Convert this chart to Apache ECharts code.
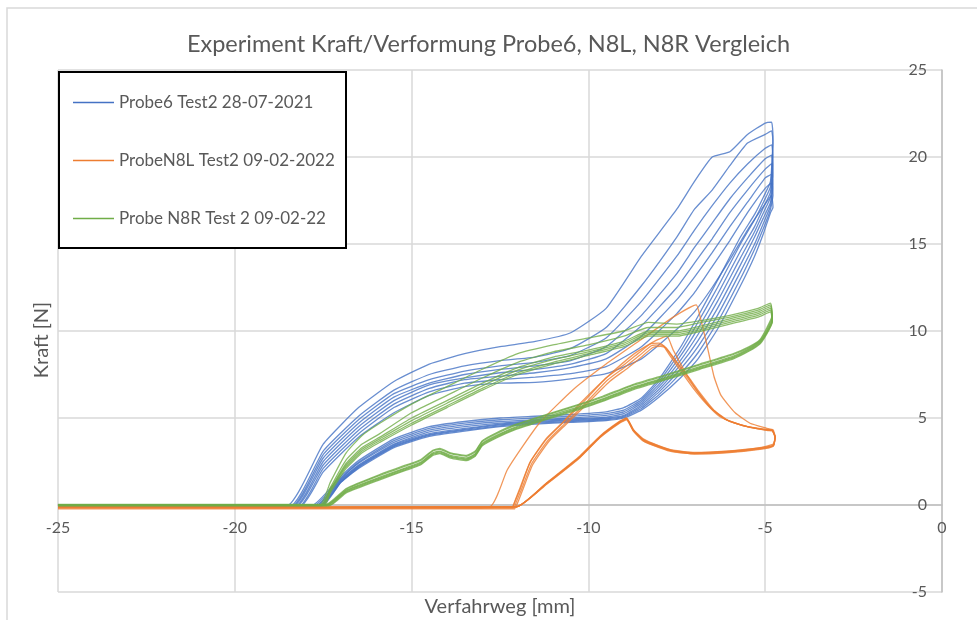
<!DOCTYPE html>
<html>

<head>
    <meta charset="UTF-8">
    <title>Experiment Kraft/Verformung</title>
    <script src="https://cdn.jsdelivr.net/npm/echarts@6.0.0/dist/echarts.min.js"></script>
</head>

<body style="margin:0;background:#fff;">
    <div id="kraftBox" style="width:977px;height:620px;"></div>

    <script>
        // Achsen
        var xMin = -25, xMax = 0, xStep = 5;
        var yMin = -5, yMax = 25, yStep = 5;

        var seriesNames = ['Probe6 Test2 28-07-2021', 'ProbeN8L Test2 09-02-2022', 'Probe N8R Test 2 09-02-22'];
        var seriesColors = ['#4472c4', '#ed7d31', '#70ad47'];

        // ---- Probe6 (blau): Belastungsast, Spitze, Entlastungsast ----
        var blueBase = [-0.06, -0.08, -0.1, -0.07, -0.09, -0.05, -0.1, -0.08];
        var blueStartX = [-18.55, -18.45, -18.4, -18.35, -18.3, -18.25, -18.2, -18.15];
        var blueUpX = [-17.5, -16.5, -15.5, -14.5, -13.5, -12.5, -11.5, -10.5, -9.5, -8.5, -7.5, -7.0, -6.5, -6.0, -5.5, -5.0];
        var blueUpY = [
            [3.5, 5.6, 7.1, 8.1, 8.7, 9.1, 9.4, 9.9, 11.3, 14.3, 17.0, 18.6, 20.0, 20.3, 21.3, 21.95],
            [3.1, 5.1, 6.6, 7.5, 8.0, 8.3, 8.5, 9.0, 10.2, 12.6, 15.4, 17.0, 18.1, 19.5, 20.8, 21.3],
            [2.9, 4.9, 6.4, 7.2, 7.7, 8.0, 8.2, 8.6, 9.6, 11.7, 14.3, 15.8, 17.2, 18.5, 19.6, 20.5],
            [2.7, 4.7, 6.2, 7.0, 7.5, 7.8, 8.0, 8.3, 9.1, 10.9, 13.3, 14.8, 16.2, 17.6, 18.8, 19.9],
            [2.5, 4.5, 6.0, 6.9, 7.3, 7.6, 7.8, 8.1, 8.7, 10.3, 12.5, 13.9, 15.3, 16.8, 18.1, 19.3],
            [2.3, 4.3, 5.8, 6.7, 7.2, 7.4, 7.6, 7.9, 8.4, 9.7, 11.8, 13.1, 14.5, 16.0, 17.4, 18.8],
            [2.1, 4.1, 5.6, 6.5, 7.0, 7.2, 7.35, 7.55, 7.95, 9.1, 11.0, 12.2, 13.7, 15.2, 16.8, 18.2],
            [1.9, 3.9, 5.3, 6.3, 6.8, 7.0, 7.05, 7.25, 7.55, 8.4, 10.1, 11.1, 12.5, 14.1, 15.8, 17.3]
        ];
        var blueTipX = -4.82;
        var blueTipY = [22.0, 21.5, 20.7, 20.1, 19.6, 19.0, 18.5, 17.8];
        var blueLowX = [-4.78, -4.85, -5.05, -5.3, -5.7, -6.35, -6.9, -7.4, -8.0, -8.5, -9.0, -9.5, -10.5, -11.5, -12.5, -13.5, -14.5, -15.5, -16.5, -17.0];
        var blueLowY = [
            [21.2, 18.6, 17.7, 16.7, 15.4, 12.9, 10.85, 9.05, 7.25, 6.15, 5.6, 5.35, 5.2, 5.1, 5.0, 4.8, 4.5, 3.8, 2.55, 1.65],
            [20.8, 18.3, 17.4, 16.4, 15.0, 12.5, 10.5, 8.8, 7.1, 6.05, 5.45, 5.25, 5.1, 5.0, 4.9, 4.7, 4.4, 3.7, 2.45, 1.55],
            [20.0, 18.0, 17.1, 16.0, 14.6, 12.1, 10.15, 8.55, 6.95, 5.95, 5.35, 5.15, 5.0, 4.9, 4.8, 4.6, 4.3, 3.6, 2.4, 1.5],
            [19.4, 17.7, 16.8, 15.7, 14.2, 11.7, 9.8, 8.3, 6.8, 5.85, 5.25, 5.05, 4.95, 4.85, 4.7, 4.5, 4.2, 3.5, 2.3, 1.45],
            [18.9, 17.4, 16.5, 15.4, 13.8, 11.3, 9.45, 8.05, 6.65, 5.75, 5.15, 5.0, 4.9, 4.8, 4.65, 4.4, 4.1, 3.45, 2.25, 1.4],
            [18.3, 17.2, 16.2, 15.0, 13.4, 10.9, 9.1, 7.8, 6.5, 5.65, 5.1, 4.95, 4.85, 4.75, 4.6, 4.35, 4.05, 3.4, 2.2, 1.35],
            [17.8, 17.0, 15.9, 14.7, 13.0, 10.5, 8.75, 7.55, 6.35, 5.55, 5.05, 4.9, 4.8, 4.7, 4.55, 4.3, 4.0, 3.35, 2.15, 1.3],
            [17.1, 16.8, 15.6, 14.3, 12.6, 10.1, 8.4, 7.3, 6.2, 5.45, 5.0, 4.85, 4.75, 4.65, 4.5, 4.25, 3.95, 3.3, 2.1, 1.3]
        ];
        var blueEndX = [-17.85, -17.8, -17.75, -17.7, -17.65, -17.6, -17.6, -17.55];

        // ---- ProbeN8L (orange) ----
        var orangeBase = [-0.1, -0.14, -0.18, -0.22, -0.12];
        var orangeUp = [
            [[-12.8, -0.1], [-12.3, 2.0], [-11.85, 3.4], [-11.35, 4.8], [-10.45, 6.6], [-9.5, 8.1], [-8.55, 9.45], [-7.6, 10.8], [-6.95, 11.5],
             [-6.85, 10.9], [-6.66, 9.3], [-6.45, 7.4], [-6.25, 6.3], [-5.85, 5.3], [-5.43, 4.7], [-4.96, 4.41], [-4.78, 4.32]],
            [[-12.15, -0.1], [-11.95, 0.9], [-11.65, 2.45], [-11.2, 3.8], [-10.7, 4.8], [-10.3, 5.7], [-9.5, 7.3], [-8.7, 8.7], [-8.1, 9.45], [-7.78, 9.7],
             [-7.6, 8.9], [-7.25, 7.6], [-6.9, 6.5], [-6.5, 5.5], [-6.1, 4.9], [-5.6, 4.55], [-5.0, 4.35], [-4.8, 4.3]],
            [[-12.12, -0.1], [-11.93, 0.9], [-11.65, 2.45], [-11.18, 3.8], [-10.71, 4.75], [-10.24, 5.7], [-9.5, 7.3], [-9.0, 8.05], [-8.6, 8.7], [-8.26, 9.25], [-8.0, 9.3], [-7.9, 9.2],
             [-7.7, 8.6], [-7.35, 7.6], [-7.05, 6.75], [-6.66, 5.8], [-6.28, 5.07], [-5.9, 4.75], [-5.4, 4.45], [-4.96, 4.33], [-4.8, 4.3]],
            [[-12.08, -0.1], [-11.9, 0.85], [-11.6, 2.4], [-11.15, 3.7], [-10.68, 4.65], [-10.2, 5.6], [-9.45, 7.2], [-8.95, 7.95], [-8.55, 8.6], [-8.22, 9.15], [-7.98, 9.2], [-7.85, 9.12],
             [-7.62, 8.5], [-7.25, 7.45], [-6.95, 6.6], [-6.55, 5.6], [-6.15, 4.95], [-5.75, 4.65], [-5.3, 4.42], [-4.96, 4.3], [-4.8, 4.28]],
            [[-12.05, -0.1], [-11.87, 0.8], [-11.58, 2.3], [-11.12, 3.65], [-10.65, 4.6], [-10.17, 5.55], [-9.4, 7.1], [-8.9, 7.85], [-8.5, 8.5], [-8.18, 9.05], [-7.95, 9.12], [-7.8, 9.02],
             [-7.55, 8.35], [-7.15, 7.3], [-6.85, 6.45], [-6.45, 5.45], [-6.05, 4.85], [-5.65, 4.58], [-5.2, 4.38], [-4.92, 4.28], [-4.8, 4.25]]
        ];
        var orangeLowX = [-4.72, -4.77, -5.15, -6.1, -7.0, -7.6, -8.0, -8.45, -8.73, -8.92, -9.11, -9.67, -10.24, -11.18, -12.03];
        var orangeLowY = [
            [3.95, 3.5, 3.3, 3.1, 3.02, 3.15, 3.4, 3.8, 4.35, 5.0, 4.82, 3.97, 2.82, 1.28, -0.1],
            [3.9, 3.45, 3.28, 3.08, 3.0, 3.12, 3.38, 3.76, 4.3, 4.96, 4.78, 3.93, 2.78, 1.25, -0.1],
            [3.92, 3.42, 3.25, 3.05, 2.97, 3.1, 3.35, 3.74, 4.31, 4.98, 4.79, 3.93, 2.78, 1.25, -0.1],
            [3.88, 3.4, 3.22, 3.02, 2.95, 3.08, 3.32, 3.7, 4.27, 4.93, 4.75, 3.9, 2.75, 1.22, -0.1],
            [3.9, 3.38, 3.2, 3.0, 2.93, 3.05, 3.3, 3.68, 4.25, 4.9, 4.72, 3.88, 2.72, 1.2, -0.1]
        ];

        // ---- Probe N8R (gruen) ----
        var greenBase = [0.0, -0.03, 0.03, -0.05, 0.02, 0.0];
        var greenStartX = [-17.6, -17.55, -17.55, -17.5, -17.5, -17.45];
        var greenUpX = [-17.3, -16.85, -16.4, -15.9, -15.0, -14.0, -13.0, -12.0, -11.0, -10.0, -9.0, -8.3, -7.5, -6.8, -6.0, -5.2, -4.85];
        var greenUpY = [
            [1.3, 3.0, 4.0, 4.7, 5.8, 6.8, 7.8, 8.7, 9.2, 9.6, 10.0, 10.5, 10.4, 10.6, 10.9, 11.3, 11.6],
            [1.0, 2.6, 3.5, 4.1, 5.3, 6.3, 7.3, 8.2, 8.8, 9.2, 9.7, 10.2, 10.2, 10.5, 10.8, 11.2, 11.5],
            [0.9, 2.4, 3.3, 3.9, 5.0, 6.0, 7.0, 7.9, 8.5, 8.9, 9.4, 10.0, 10.0, 10.3, 10.7, 11.1, 11.4],
            [0.85, 2.3, 3.2, 3.8, 4.85, 5.85, 6.85, 7.75, 8.35, 8.8, 9.3, 9.9, 9.9, 10.2, 10.6, 11.0, 11.3],
            [0.8, 2.2, 3.1, 3.7, 4.7, 5.7, 6.7, 7.6, 8.2, 8.7, 9.2, 9.8, 9.8, 10.1, 10.5, 10.9, 11.2],
            [0.7, 2.1, 3.0, 3.6, 4.6, 5.6, 6.6, 7.5, 8.1, 8.6, 9.1, 9.7, 9.7, 10.0, 10.4, 10.8, 11.1]
        ];
        var greenLowX = [-4.8, -4.95, -5.15, -5.45, -5.9, -6.85, -7.8, -8.7, -9.6, -10.25, -11.2, -12.1, -12.6, -13.0, -13.2, -13.45, -13.9, -14.2, -14.4, -14.75, -15.15, -15.9, -16.85];
        var greenLowY = [
            [10.9, 10.2, 9.5, 9.1, 8.7, 8.1, 7.5, 6.95, 6.25, 5.8, 5.2, 4.6, 4.15, 3.7, 3.1, 2.85, 3.0, 3.25, 3.15, 2.6, 2.3, 1.75, 0.95],
            [10.8, 10.1, 9.45, 9.05, 8.65, 8.05, 7.45, 6.9, 6.2, 5.75, 5.15, 4.55, 4.1, 3.65, 3.05, 2.8, 2.95, 3.2, 3.1, 2.55, 2.25, 1.7, 0.9],
            [10.7, 10.0, 9.4, 9.0, 8.55, 7.95, 7.35, 6.8, 6.1, 5.65, 5.07, 4.45, 4.0, 3.55, 2.95, 2.7, 2.85, 3.1, 3.0, 2.45, 2.15, 1.6, 0.85],
            [10.6, 9.95, 9.35, 8.95, 8.5, 7.9, 7.3, 6.75, 6.05, 5.6, 5.0, 4.4, 3.95, 3.5, 2.9, 2.65, 2.8, 3.05, 2.95, 2.4, 2.1, 1.55, 0.8],
            [10.55, 9.9, 9.3, 8.9, 8.45, 7.85, 7.25, 6.7, 6.0, 5.55, 4.95, 4.35, 3.9, 3.45, 2.85, 2.6, 2.75, 3.0, 2.9, 2.35, 2.05, 1.5, 0.75],
            [10.5, 9.85, 9.25, 8.85, 8.4, 7.8, 7.2, 6.65, 5.95, 5.5, 4.9, 4.3, 3.85, 3.4, 2.8, 2.55, 2.7, 2.95, 2.85, 2.3, 2.0, 1.45, 0.7]
        ];
        var greenEndX = [-17.45, -17.4, -17.4, -17.35, -17.35, -17.3];

        function pairs(xs, ys) {
            return xs.map(function (x, i) { return [x, ys[i]]; });
        }

        function lineSeries(name, color, data) {
            return {
                name: name,
                type: 'line',
                data: data,
                symbol: 'none',
                smooth: 0.15,
                silent: true,
                lineStyle: { color: color, width: 1.3, opacity: 0.8 },
                itemStyle: { color: color }
            };
        }

        function buildSeries() {
            var list = [];
            var k;
            // blau
            for (k = 0; k < blueUpY.length; k++) {
                var b = [[xMin, blueBase[k]], [blueStartX[k], blueBase[k]]]
                    .concat(pairs(blueUpX, blueUpY[k]))
                    .concat([[blueTipX, blueTipY[k]]])
                    .concat(pairs(blueLowX, blueLowY[k]))
                    .concat([[blueEndX[k], blueBase[k]], [xMin, blueBase[k]]]);
                list.push(lineSeries(seriesNames[0], seriesColors[0], b));
            }
            // orange
            for (k = 0; k < orangeUp.length; k++) {
                var o = [[xMin, orangeBase[k]], [orangeUp[k][0][0], orangeBase[k]]]
                    .concat(orangeUp[k])
                    .concat(pairs(orangeLowX, orangeLowY[k]))
                    .concat([[xMin, orangeBase[k]]]);
                list.push(lineSeries(seriesNames[1], seriesColors[1], o));
            }
            // gruen
            for (k = 0; k < greenUpY.length; k++) {
                var g = [[xMin, greenBase[k]], [greenStartX[k], greenBase[k]]]
                    .concat(pairs(greenUpX, greenUpY[k]))
                    .concat(pairs(greenLowX, greenLowY[k]))
                    .concat([[greenEndX[k], greenBase[k]], [xMin, greenBase[k]]]);
                list.push(lineSeries(seriesNames[2], seriesColors[2], g));
            }
            return list;
        }

        window.addEventListener('load', function () {
            var myChart = echarts.init(document.getElementById('kraftBox'), null, { renderer: 'canvas' });
            var font = 'Lato, "Liberation Sans", sans-serif';

            var option = {
                animation: false,
                backgroundColor: '#fff',
                textStyle: { fontFamily: font },
                title: {
                    text: 'Experiment Kraft/Verformung Probe6, N8L, N8R Vergleich',
                    left: 'center',
                    top: 27,
                    textStyle: { color: '#595959', fontSize: 23.5, fontWeight: 'normal', fontFamily: font }
                },
                legend: {
                    data: seriesNames,
                    orient: 'vertical',
                    left: 59,
                    top: 72,
                    padding: [22, 10, 20, 14],
                    icon: 'rect',
                    itemWidth: 41,
                    itemHeight: 1.6,
                    itemGap: 41,
                    selectedMode: false,
                    textStyle: { color: '#595959', fontSize: 17, fontFamily: font, lineHeight: 17 }
                },
                grid: {
                    left: 58,
                    top: 70,
                    width: 884,
                    height: 522,
                    containLabel: false,
                    outerBoundsMode: 'none'
                },
                xAxis: {
                    type: 'value',
                    min: xMin,
                    max: xMax,
                    interval: xStep,
                    offset: -87,
                    axisLine: { onZero: false, lineStyle: { color: '#bfbfbf', width: 1.5 } },
                    axisTick: { show: false },
                    axisLabel: { color: '#595959', fontSize: 16, margin: 15, fontFamily: font },
                    splitLine: { show: true, lineStyle: { color: '#d9d9d9', width: 1.5 } }
                },
                yAxis: {
                    type: 'value',
                    position: 'right',
                    min: yMin,
                    max: yMax,
                    interval: yStep,
                    axisLine: { show: true, onZero: false, lineStyle: { color: '#bfbfbf', width: 1.5 } },
                    axisTick: { show: false },
                    axisLabel: { inside: true, color: '#595959', fontSize: 16, margin: 15, fontFamily: font },
                    splitLine: { show: true, lineStyle: { color: '#d9d9d9', width: 1.5 } }
                },
                graphic: [
                    {
                        // aeusserer Rahmen
                        type: 'rect', z: -10, silent: true,
                        shape: { x: 7, y: 8, width: 1000, height: 640 },
                        style: { fill: 'none', stroke: '#d9d9d9', lineWidth: 1.5 }
                    },
                    {
                        // Legendenrahmen
                        type: 'rect', z: 3, silent: true,
                        shape: { x: 59, y: 72, width: 287, height: 176 },
                        style: { fill: '#fff', stroke: '#000', lineWidth: 2 }
                    },
                    {
                        type: 'text', silent: true,
                        x: 42, y: 340, rotation: Math.PI / 2,
                        style: { text: 'Kraft [N]', fill: '#595959', fontSize: 20, fontFamily: font, align: 'center', verticalAlign: 'middle' }
                    },
                    {
                        type: 'text', silent: true,
                        x: 500, y: 607,
                        style: { text: 'Verfahrweg [mm]', fill: '#595959', fontSize: 20, fontFamily: font, align: 'center', verticalAlign: 'middle' }
                    }
                ],
                series: buildSeries()
            };

            myChart.setOption(option);
        });
    </script>

</body>

</html>
